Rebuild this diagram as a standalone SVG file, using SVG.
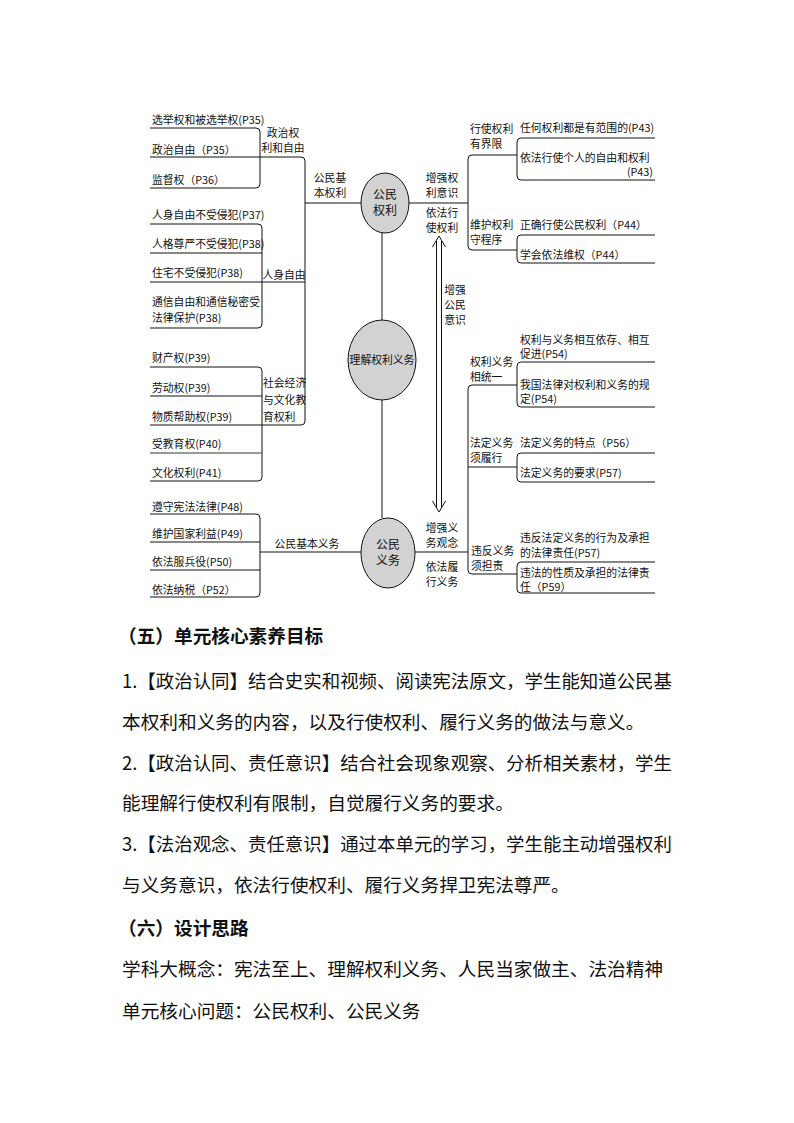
<svg xmlns="http://www.w3.org/2000/svg" width="794" height="1123" viewBox="0 0 794 1123">
<style>
.t{font-family:"Noto Sans CJK SC","Noto Sans",sans-serif;font-size:10.8px;fill:#111}
.n{font-family:"Noto Sans CJK SC","Noto Sans",sans-serif;font-size:12px;fill:#111;text-anchor:middle}
.c{text-anchor:middle}
.e{text-anchor:end}
.ln{fill:none;stroke:#111;stroke-width:1}
.gl{fill:none;stroke:#777;stroke-width:1.3}
.el{fill:#d2d2d2;stroke:#111;stroke-width:1}
.b{font-family:"Noto Sans CJK SC","Noto Sans",sans-serif;font-size:18.67px;fill:#111}
.h{font-family:"Noto Sans CJK SC","Noto Sans",sans-serif;font-size:18.67px;font-weight:bold;fill:#111}
</style>
<rect width="794" height="1123" fill="#fff"/>
<g id="connectors">
<path class="ln" d="M150,128 H256 Q260,128 260,132 V184 Q260,188 256,188 H150"/>
<path class="ln" d="M150,157 H301 Q305,157 305,161 V421 Q305,425 301,425 H150"/>
<path class="ln" d="M305,203 H361"/>
<path class="ln" d="M150,224 H258 Q262,224 262,228 V324 Q262,328 258,328 H150"/>
<path class="ln" d="M150,253 H262"/>
<path class="ln" d="M150,282 H305"/>
<path class="ln" d="M150,367 H258 Q262,367 262,371 V477 Q262,481 258,481 H150"/>
<path class="ln" d="M150,396 H262"/>
<path class="gl" d="M150,453 H262"/>
<path class="ln" d="M150,514 H256 Q260,514 260,518 V593 Q260,597 256,597 H150"/>
<path class="ln" d="M150,542 H260"/>
<path class="ln" d="M150,570 H260"/>
<path class="ln" d="M260,552 H361"/>
<path class="ln" d="M408,203 H468"/>
<path class="ln" d="M517,155 H472 Q468,155 468,159 V246 Q468,250 472,250 H517"/>
<path class="ln" d="M655,138 H521 Q517,138 517,142 V176 Q517,180 521,180 H655"/>
<path class="ln" d="M655,235 H521 Q517,235 517,239 V259 Q517,263 521,263 H655"/>
<path class="ln" d="M415,552 H468"/>
<path class="ln" d="M517,385 H472 Q468,385 468,389 V570 Q468,574 472,574 H517"/>
<path class="ln" d="M468,467 H517"/>
<path class="ln" d="M655,362 H521 Q517,362 517,366 V403 Q517,407 521,407 H655"/>
<path class="ln" d="M655,453 H521 Q517,453 517,457 V478 Q517,482 521,482 H655"/>
<path class="ln" d="M655,562 H521 Q517,562 517,566 V589 Q517,593 521,593 H655"/>
<path class="ln" d="M382,233 V320" stroke="#444"/>
<path class="ln" d="M382,400 V518" stroke="#444"/>
<g id="double-arrow">
<path class="ln" d="M436.5,241 V507 M441.5,241 V507"/>
<path class="ln" d="M432.5,247 L439,236 L445.5,247"/>
<path class="ln" d="M432.5,501 L439,512 L445.5,501"/>
</g>
</g>
<g id="node-rights">
<ellipse class="el" cx="385" cy="203" rx="24" ry="30"/>
<text class="n" x="385" y="199">公民</text>
<text class="n" x="385" y="215">权利</text>
</g>
<g id="node-center">
<ellipse class="el" cx="382" cy="360" rx="34" ry="40"/>
<text class="t c" x="382" y="364">理解权利义务</text>
</g>
<g id="node-duties">
<ellipse class="el" cx="388" cy="553" rx="27" ry="35"/>
<text class="n" x="388" y="549">公民</text>
<text class="n" x="388" y="565">义务</text>
</g>
<g id="labels-center">
<text class="t c" x="330" y="182">公民基</text>
<text class="t c" x="330" y="197">本权利</text>
<text class="t c" x="442" y="182">增强权</text>
<text class="t c" x="442" y="197">利意识</text>
<text class="t c" x="442" y="217">依法行</text>
<text class="t c" x="442" y="232">使权利</text>
<text class="t c" x="455" y="294">增强</text>
<text class="t c" x="455" y="309">公民</text>
<text class="t c" x="455" y="324">意识</text>
<text class="t c" x="307" y="548">公民基本义务</text>
<text class="t c" x="442" y="532">增强义</text>
<text class="t c" x="442" y="547">务观念</text>
<text class="t c" x="442" y="571">依法履</text>
<text class="t c" x="442" y="586">行义务</text>
</g>
<g id="node-political">
<text class="t c" x="283" y="137">政治权</text>
<text class="t c" x="283" y="152">利和自由</text>
<text class="t" x="152" y="124">选举权和被选举权(P35)</text>
<text class="t" x="152" y="154">政治自由（P35）</text>
<text class="t" x="152" y="184">监督权（P36）</text>
</g>
<g id="node-personal">
<text class="t c" x="284" y="279">人身自由</text>
<text class="t" x="152" y="219">人身自由不受侵犯(P37)</text>
<text class="t" x="152" y="248">人格尊严不受侵犯(P38)</text>
<text class="t" x="152" y="277">住宅不受侵犯(P38)</text>
<text class="t" x="152" y="306">通信自由和通信秘密受</text>
<text class="t" x="152" y="322">法律保护(P38)</text>
</g>
<g id="node-social">
<text class="t" x="263" y="387">社会经济</text>
<text class="t" x="263" y="404">与文化教</text>
<text class="t" x="263" y="421">育权利</text>
<text class="t" x="152" y="362">财产权(P39)</text>
<text class="t" x="152" y="392">劳动权(P39)</text>
<text class="t" x="152" y="421">物质帮助权(P39)</text>
<text class="t" x="152" y="448">受教育权(P40)</text>
<text class="t" x="152" y="477">文化权利(P41)</text>
</g>
<g id="node-basic-duties">
<text class="t" x="152" y="511">遵守宪法法律(P48)</text>
<text class="t" x="152" y="538">维护国家利益(P49)</text>
<text class="t" x="152" y="566">依法服兵役(P50)</text>
<text class="t" x="152" y="594">依法纳税（P52）</text>
</g>
<g id="node-limits">
<text class="t" x="470" y="133">行使权利</text>
<text class="t" x="470" y="148">有界限</text>
<text class="t" x="520" y="132">任何权利都是有范围的(P43)</text>
<text class="t" x="520" y="162">依法行使个人的自由和权利</text>
<text class="t e" x="653" y="176">(P43)</text>
</g>
<g id="node-procedure">
<text class="t" x="470" y="229">维护权利</text>
<text class="t" x="470" y="244">守程序</text>
<text class="t" x="520" y="229">正确行使公民权利（P44）</text>
<text class="t" x="520" y="259">学会依法维权（P44）</text>
</g>
<g id="node-unity">
<text class="t" x="470" y="366">权利义务</text>
<text class="t" x="470" y="381">相统一</text>
<text class="t" x="520" y="344">权利与义务相互依存、相互</text>
<text class="t" x="520" y="358">促进(P54)</text>
<text class="t" x="520" y="389">我国法律对权利和义务的规</text>
<text class="t" x="520" y="403">定(P54)</text>
</g>
<g id="node-fulfil">
<text class="t" x="470" y="447">法定义务</text>
<text class="t" x="470" y="462">须履行</text>
<text class="t" x="520" y="447">法定义务的特点（P56）</text>
<text class="t" x="520" y="477">法定义务的要求(P57)</text>
</g>
<g id="node-violation">
<text class="t" x="471" y="555">违反义务</text>
<text class="t" x="471" y="570">须担责</text>
<text class="t" x="520" y="542">违反法定义务的行为及承担</text>
<text class="t" x="520" y="557">的法律责任(P57)</text>
<text class="t" x="520" y="577">违法的性质及承担的法律责</text>
<text class="t" x="520" y="591">任（P59）</text>
</g>
<g id="body-text">
<text class="h" x="118" y="643">（五）单元核心素养目标</text>
<text class="b" x="122" y="688" textLength="550" lengthAdjust="spacingAndGlyphs">1.【政治认同】结合史实和视频、阅读宪法原文，学生能知道公民基</text>
<text class="b" x="122" y="729">本权利和义务的内容，以及行使权利、履行义务的做法与意义。</text>
<text class="b" x="122" y="770" textLength="550" lengthAdjust="spacingAndGlyphs">2.【政治认同、责任意识】结合社会现象观察、分析相关素材，学生</text>
<text class="b" x="122" y="810">能理解行使权利有限制，自觉履行义务的要求。</text>
<text class="b" x="122" y="851" textLength="550" lengthAdjust="spacingAndGlyphs">3.【法治观念、责任意识】通过本单元的学习，学生能主动增强权利</text>
<text class="b" x="122" y="892">与义务意识，依法行使权利、履行义务捍卫宪法尊严。</text>
<text class="h" x="118" y="935">（六）设计思路</text>
<text class="b" x="122" y="976">学科大概念：宪法至上、理解权利义务、人民当家做主、法治精神</text>
<text class="b" x="122" y="1018">单元核心问题：公民权利、公民义务</text>
</g>
</svg>
